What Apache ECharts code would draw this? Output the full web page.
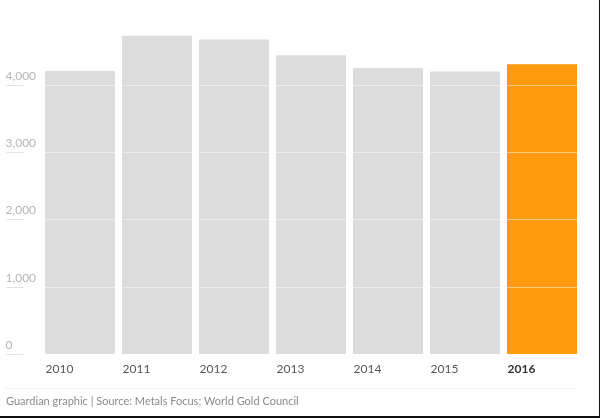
<!DOCTYPE html>
<html>
<head>
<meta charset="utf-8">
<script src="https://cdn.jsdelivr.net/npm/echarts@6/dist/echarts.min.js"></script>
<style>
  html, body { margin: 0; padding: 0; background: #fff; }
  #chart-container { width: 599px; height: 416px; border-right: 1px solid #111; border-bottom: 2px solid #111; }
</style>
</head>
<body>
<div id="chart-container"></div>
<script>
let dom = document.getElementById("chart-container");
let myChart = echarts.init(dom, null, { renderer: "canvas" });

// gold demand by year (tonnes)
const years = ["2010", "2011", "2012", "2013", "2014", "2015", "2016"];
const demand = [4210, 4735, 4680, 4445, 4255, 4205, 4310];
const yTicks = [0, 1000, 2000, 3000, 4000];
const highlightYear = "2016";

const font = "Lato, 'Open Sans', sans-serif";
// shift year labels so they start at the bar's left edge
const labelPad = [0, 0, 0, -34.5];

let option = {
  animation: false,
  grid: { left: 41.5, right: 18.5, top: 18, bottom: 62 },
  xAxis: {
    type: "category",
    data: years.map((y) =>
      y === highlightYear
        ? {
            value: y,
            textStyle: { fontWeight: "bold", color: "#333", padding: labelPad, align: "left" },
          }
        : y
    ),
    axisLine: { show: false },
    axisTick: { show: false },
    axisLabel: {
      interval: 0,
      align: "left",
      margin: 9,
      padding: labelPad,
      fontFamily: font,
      fontSize: 12,
      color: "#555",
    },
  },
  yAxis: [
    {
      type: "value",
      min: 0,
      max: 5000,
      interval: 1000,
      z: 5,
      axisLine: { show: false },
      axisTick: { show: false },
      axisLabel: {
        customValues: yTicks,
        align: "left",
        verticalAlign: "bottom",
        margin: 36,
        padding: [0, 0, 3, 0],
        formatter: (v) => v.toLocaleString("en-US"),
        fontFamily: font,
        fontSize: 12,
        color: "#b5b5b5",
      },
      splitLine: {
        lineStyle: { color: "rgba(255,255,255,0.45)", width: 1 },
      },
    },
    {
      // short rules under the tick labels
      type: "value",
      position: "left",
      offset: 18,
      min: 0,
      max: 5000,
      interval: 1000,
      axisLine: { show: false },
      axisLabel: { show: false },
      splitLine: { show: false },
      axisTick: {
        show: true,
        customValues: yTicks,
        length: 17,
        lineStyle: { color: "#e4e4e4" },
      },
    },
  ],
  series: [
    {
      type: "bar",
      barCategoryGap: "9%",
      data: demand.map((v, i) => ({
        value: v,
        itemStyle: { color: years[i] === highlightYear ? "#fe9b0d" : "#dcdcdc" },
      })),
    },
  ],
  graphic: [
    {
      type: "line",
      shape: { x1: 5, y1: 388.5, x2: 576, y2: 388.5 },
      style: { stroke: "#e6e6e6", lineWidth: 1, lineDash: [1, 1] },
    },
    {
      type: "text",
      left: 6,
      top: 396,
      style: {
        text: "Guardian graphic | Source: Metals Focus; World Gold Council",
        font: "11px " + font,
        fill: "#8a8a8a",
      },
    },
  ],
};

myChart.setOption(option);
window.addEventListener("resize", myChart.resize);
</script>
</body>
</html>
